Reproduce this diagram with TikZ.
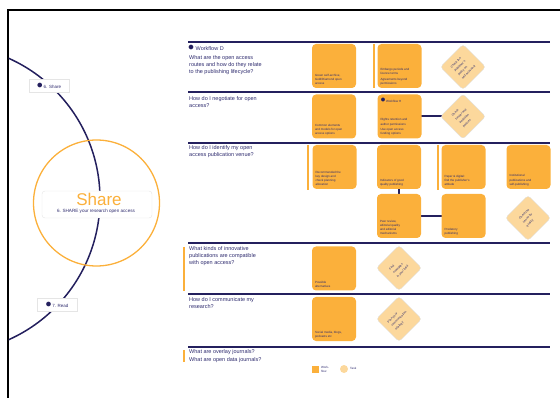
\documentclass[tikz,border=0pt]{standalone}
\usepackage{fontspec}
\setmainfont{Liberation Sans}
\usetikzlibrary{backgrounds}
\definecolor{navy}{HTML}{24205E}
\definecolor{ora}{HTML}{FBB03B}
\definecolor{peach}{HTML}{FCD89C}
\definecolor{txt}{HTML}{2E2B6E}
\tikzset{
  lane/.style={draw=navy, line width=2.4pt},
  wbox/.style={rectangle, rounded corners=4pt, fill=ora, minimum width=44pt, minimum height=44pt, inner sep=0pt},
  btxt/.style={anchor=south west, font=\fontsize{3}{4.3}\selectfont, text=txt, align=left, inner sep=0pt},
  dia/.style={rectangle, rotate=45, rounded corners=3pt, fill=peach, draw=black!12, minimum width=32pt, minimum height=32pt, inner sep=1pt, font=\fontsize{3}{5.2}\selectfont, text=txt, align=left},
  quest/.style={anchor=north west, font=\fontsize{5.5}{7}\selectfont, text=txt, align=left, inner sep=0pt},
  obar/.style={draw=ora, line width=2pt},
  conn/.style={draw=navy, line width=2pt},
  lbl/.style={rectangle, fill=white, draw=black!10, font=\fontsize{4.5}{5}\selectfont, text=txt, minimum width=40pt, minimum height=13pt, inner sep=1pt},
}
\begin{document}
\begin{tikzpicture}[x=1pt,y=-1pt]
\useasboundingbox (0,0) rectangle (560,398);
% frame
\draw[line width=1.2pt] (8,398) -- (8,10) -- (560,10);
% big arc
\begin{scope}
\clip (8.6,10) rectangle (560,398);
\draw[navy, line width=1.5pt] (-54,199) circle[radius=154pt];
\end{scope}
% orange circle
\draw[ora, line width=1.3pt] (96.5,203) circle[radius=63pt];
\node[rectangle, rounded corners=3pt, fill=white, draw=black!10, minimum width=110pt, minimum height=27pt, inner sep=0pt] (center) at (97,204.5) {};
\node[font=\fontsize{17}{17}\selectfont, text=ora, inner sep=0pt] (share) at (99,199) {Share};
\node[font=\fontsize{4.6}{5}\selectfont, text=txt, inner sep=0pt] (sub) at (96,211) {6. SHARE your research open access};
\node[lbl] (l6) at (49,85.5) {\textcolor{navy}{\large$\bullet$}\,6. Share};
\node[lbl] (l7) at (57,304.5) {\textcolor{navy}{\large$\bullet$}\,7. Read};
% lanes
\foreach \y in {42,92,143,243,294,347} \draw[lane] (188,\y) -- (550,\y);
% row 1
\node[quest] (wf) at (188,45) {\textcolor{navy}{\large$\bullet$}\ Workflow D};
\node[quest] (q1) at (189,55) {What are the open access\\routes and how do they relate\\to the publishing lifecycle?};
\node[wbox] (b1) at (334,66) {};
\node[btxt] at ([shift={(3,-3)}]b1.south west) {Green self-archive,\\Gold/Diamond open\\access};
\draw[obar] (374,44) -- (374,88);
\node[wbox] (b2) at (399.5,66) {};
\node[btxt] at ([shift={(3,-3)}]b2.south west) {Embargo periods and\\licence terms\\[1pt]Agreements beyond\\permissions};
\node[dia] (d1) at (463,67) {Check the\\publisher's\\policy on\\self-archiving};
% row 2
\node[quest] (q2) at (189,96) {How do I negotiate for open\\access?};
\node[wbox] (b3) at (334,116.5) {};
\node[btxt] at ([shift={(3,-3)}]b3.south west) {Common elements\\and models for open\\access options};
\begin{scope}[on background layer]
\draw[conn] (399.5,116.5) -- (463,116.5);
\end{scope}
\node[wbox] (b4) at (399.5,116.5) {};
\node[btxt, anchor=north west] at ([shift={(3,4)}]b4.north west) {\textcolor{navy}{\normalsize$\bullet$}\,Workflow H};
\node[btxt] at ([shift={(3,-3)}]b4.south west) {Rights retention and\\author permissions\\[1pt]Use open access\\funding options};
\node[dia] (d2) at (463,116.5) {Check\\funder and\\institution\\policies};
% row 3
\node[quest] (q3) at (189,145) {How do I identify my open\\access publication venue?};
\draw[obar] (308,145) -- (308,190);
\node[wbox] (b5) at (334.5,167) {};
\node[btxt] at ([shift={(3,-3)}]b5.south west) {Recommended the\\key design and\\check planning\\allocation};
\begin{scope}[on background layer]
\draw[conn] (399,167) -- (399,216);
\draw[conn] (399,216) -- (463.5,216);
\end{scope}
\node[wbox] (b6) at (399,167) {};
\node[btxt] at ([shift={(3,-3)}]b6.south west) {Indicators of good\\quality publishing};
\node[wbox] (b7) at (399,216) {};
\node[btxt] at ([shift={(3,-3)}]b7.south west) {Peer review,\\editorial quality\\and editorial\\mechanisms};
\draw[obar] (438,145) -- (438,190);
\node[wbox] (b8) at (463.5,167) {};
\node[btxt] at ([shift={(3,-3)}]b8.south west) {Paper \& digital:\\find the publisher's\\attitude};
\node[wbox] (b9) at (463.5,216) {};
\node[btxt] at ([shift={(3,-3)}]b9.south west) {Predatory\\publishing};
\node[wbox] (b10) at (528.5,167) {};
\node[btxt] at ([shift={(3,-3)}]b10.south west) {Institutional\\publications and\\self-publishing};
\node[dia] (d3) at (528,218) {Check the\\venue for\\quality};
% row 4
\draw[obar] (184,247) -- (184,291);
\node[quest] (q4) at (189,246) {What kinds of innovative\\publications are compatible\\with open access?};
\node[wbox] (b11) at (334,268.5) {};
\node[btxt] at ([shift={(3,-3)}]b11.south west) {Possible\\alternatives};
\node[dia] (d4) at (399,268) {Find\\examples\\in your field};
% row 5
\node[quest] (q5) at (189,297) {How do I communicate my\\research?};
\node[wbox] (b12) at (334,319) {};
\node[btxt] at ([shift={(3,-3)}]b12.south west) {Social media, blogs,\\podcasts etc};
\node[dia] (d5) at (399,319) {Plan your\\communication\\strategy};
% row 6
\draw[obar] (184,350) -- (184,362);
\node[quest] (q6) at (189,349) {What are overlay journals?\\[1pt]What are open data journals?};
% legend
\node[rectangle, fill=ora, minimum size=7pt, inner sep=0pt] (lg1) at (315.5,369) {};
\node[anchor=west, font=\fontsize{3}{3.5}\selectfont, text=txt, inner sep=0pt, align=left] (lt1) at (321,369.5) {Work-\\flow};
\node[circle, fill=peach, minimum size=8pt, inner sep=0pt] (lg2) at (344,369) {};
\node[anchor=west, font=\fontsize{3}{3.5}\selectfont, text=txt, inner sep=0pt] (lt2) at (350,368.5) {Task};
\end{tikzpicture}
\end{document}
